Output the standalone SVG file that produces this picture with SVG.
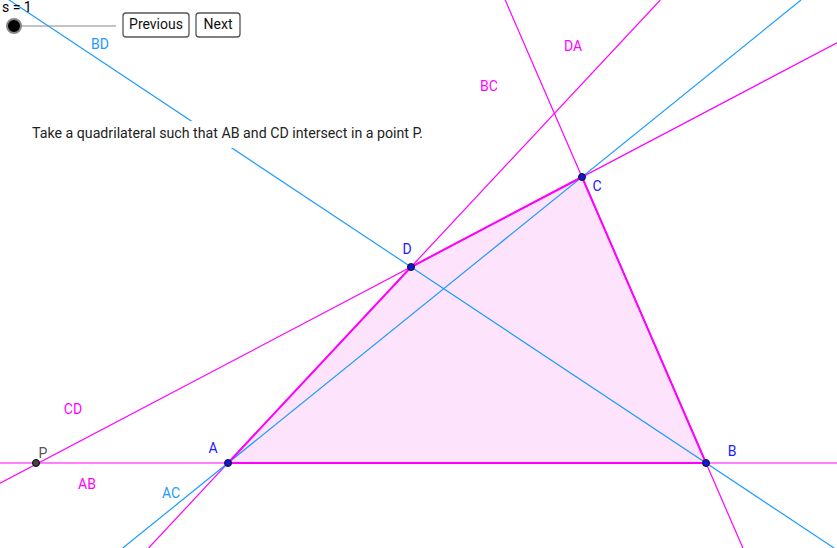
<svg xmlns="http://www.w3.org/2000/svg" width="837" height="548" viewBox="0 0 837 548">
<style>
.ln{fill:none;stroke-width:1.2}
.m{stroke:#ff00ff}
.b{stroke:#1e9bff}
.edge{stroke:#ff00ff;stroke-width:2;fill:none}
text{font-family:Roboto,"Liberation Sans",sans-serif;font-size:14px}
.lm{fill:#ff00ff;text-anchor:middle}
.lb{fill:#1e9bff;text-anchor:middle}
.lp{fill:#2020ff;text-anchor:middle}
.pt{fill:#1515e0;stroke:#111;stroke-width:1}
.btn{fill:#fff;stroke:#555;stroke-width:1.3}
</style>
<rect width="837" height="548" fill="#fff"/>
<g id="quad">
<polygon points="228,463 706,463 582,177 411,267" fill="#fde3fb" stroke="none"/>
</g>
<g id="connectors">
<line id="lineAB" class="ln m" x1="0" y1="463" x2="837" y2="463"/>
<line id="lineCD" class="ln m" x1="0" y1="483.3" x2="837" y2="42.8"/>
<line id="lineDA" class="ln m" x1="148.6" y1="548" x2="660.3" y2="0"/>
<line id="lineBC" class="ln m" x1="505.2" y1="0" x2="742.9" y2="548"/>
<line id="lineAC" class="ln b" x1="122.8" y1="548" x2="801" y2="0"/>
<line id="lineBD" class="ln b" x1="0" y1="-6.1" x2="837" y2="550"/>
<polygon class="edge" points="228,463 706,463 582,177 411,267"/>
</g>
<g id="textbox">
<rect x="28" y="121" width="402" height="27" fill="#fff"/>
<text x="32" y="138" fill="#222" font-size="14.6" textLength="391" lengthAdjust="spacingAndGlyphs">Take a quadrilateral such that AB and CD intersect in a point P.</text>
</g>
<g id="labels">
<text class="lb" x="100" y="49">BD</text>
<text class="lm" x="573" y="51">DA</text>
<text class="lm" x="489" y="91">BC</text>
<text class="lm" x="73" y="414">CD</text>
<text class="lm" x="87" y="489">AB</text>
<text class="lb" x="171" y="498">AC</text>
</g>
<g id="P"><circle cx="36" cy="463" r="3.5" fill="#444" stroke="#000" stroke-width="1"/><text x="43" y="458" fill="#555" text-anchor="middle">P</text></g>
<g id="A"><circle class="pt" cx="228" cy="463" r="3.5"/><text class="lp" x="213" y="453">A</text></g>
<g id="B"><circle class="pt" cx="706" cy="463" r="3.5"/><text class="lp" x="732" y="456">B</text></g>
<g id="C"><circle class="pt" cx="582" cy="177" r="3.5"/><text class="lp" x="597" y="191">C</text></g>
<g id="D"><circle class="pt" cx="411" cy="267" r="3.5"/><text class="lp" x="407" y="254">D</text></g>
<g id="slider">
<text x="2" y="12" fill="#000">s = 1</text>
<line x1="14" y1="26" x2="116" y2="26" stroke="#888" stroke-width="1"/>
<circle cx="14" cy="26" r="7" fill="#000" stroke="#888" stroke-width="2"/>
</g>
<g id="btnPrev"><rect class="btn" x="123" y="13" width="66" height="24" rx="3"/><text x="156" y="29" text-anchor="middle" font-size="12" fill="#111">Previous</text></g>
<g id="btnNext"><rect class="btn" x="196" y="13" width="44" height="24" rx="3"/><text x="218" y="29" text-anchor="middle" font-size="12" fill="#111">Next</text></g>
</svg>
